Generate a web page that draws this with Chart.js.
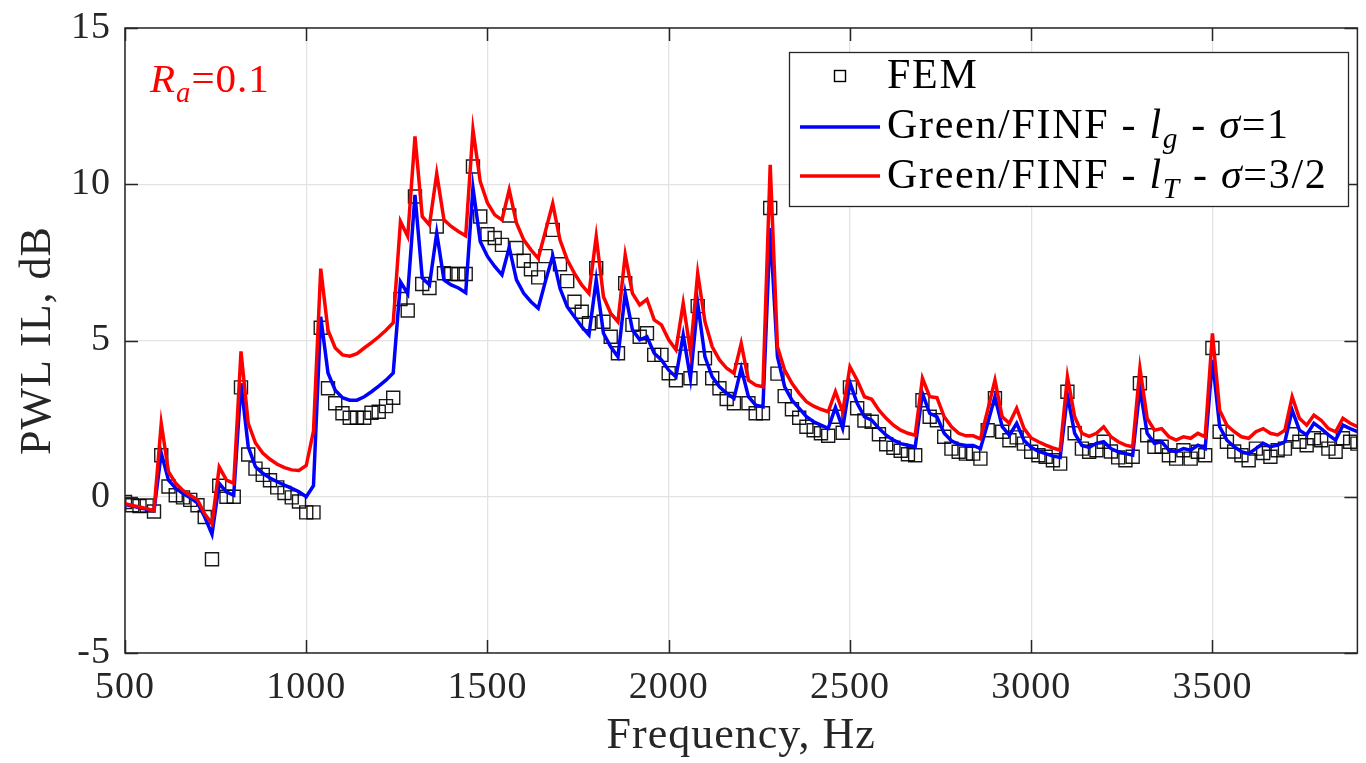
<!DOCTYPE html>
<html>
<head>
<meta charset="utf-8">
<script src="https://cdn.jsdelivr.net/npm/chart.js@4.4.1/dist/chart.umd.min.js"></script>
<style>
  html, body { margin: 0; padding: 0; background: #fff; overflow: hidden; }
  #wrap { position: relative; width: 1368px; height: 763px; }
</style>
</head>
<body>
<div id="wrap"><canvas id="plot"></canvas></div>
<script>
// frequency grid, Hz
var freq = [
  500,520,540,560,580,600,620,640,660,680,
  700,720,740,760,780,800,820,840,860,880,
  900,920,940,960,980,1000,1020,1040,1060,1080,
  1100,1120,1140,1160,1180,1200,1220,1240,1260,1280,
  1300,1320,1340,1360,1380,1400,1420,1440,1460,1480,
  1500,1520,1540,1560,1580,1600,1620,1640,1660,1680,
  1700,1720,1740,1760,1780,1800,1820,1840,1860,1880,
  1900,1920,1940,1960,1980,2000,2020,2040,2060,2080,
  2100,2120,2140,2160,2180,2200,2220,2240,2260,2280,
  2300,2320,2340,2360,2380,2400,2420,2440,2460,2480,
  2500,2520,2540,2560,2580,2600,2620,2640,2660,2680,
  2700,2720,2740,2760,2780,2800,2820,2840,2860,2880,
  2900,2920,2940,2960,2980,3000,3020,3040,3060,3080,
  3100,3120,3140,3160,3180,3200,3220,3240,3260,3280,
  3300,3320,3340,3360,3380,3400,3420,3440,3460,3480,
  3500,3520,3540,3560,3580,3600,3620,3640,3660,3680,
  3700,3720,3740,3760,3780,3800,3820,3840,3860,3880,
  3900
];

// FEM reference, dB
var fem = [
  -0.17,-0.27,-0.30,-0.28,-0.47,1.33,0.33,0.05,-0.02,-0.10,
  -0.27,-0.65,-2.00,0.35,0.00,0.00,3.50,1.35,0.90,0.70,
  0.53,0.30,0.12,-0.02,-0.15,-0.50,-0.50,5.41,3.47,2.99,
  2.67,2.53,2.53,2.53,2.69,2.72,2.90,3.17,6.33,5.96,
  9.61,6.81,6.68,8.65,7.15,7.13,7.13,7.13,10.57,8.97,
  8.40,8.28,8.06,9.00,7.96,7.55,7.28,7.02,7.70,8.54,
  7.44,6.90,6.24,5.92,5.55,7.31,5.60,5.12,4.59,6.83,
  5.50,5.12,5.23,4.54,4.54,3.95,3.73,4.90,3.79,6.10,
  4.43,3.79,3.47,3.13,2.99,4.05,2.99,2.67,2.67,9.24,
  3.94,3.22,2.80,2.53,2.24,2.13,2.03,1.95,2.56,2.05,
  3.50,2.83,2.44,2.40,2.00,1.68,1.57,1.47,1.36,1.33,
  3.09,2.56,2.45,1.92,1.54,1.44,1.38,1.38,1.22,2.13,
  3.15,2.08,1.81,1.90,1.70,1.44,1.33,1.28,1.17,1.06,
  3.36,2.03,1.54,1.44,1.49,1.76,1.45,1.26,1.17,1.28,
  3.63,1.97,1.60,1.60,1.33,1.22,1.49,1.22,1.44,1.33,
  4.76,2.08,1.76,1.45,1.33,1.17,1.54,1.40,1.28,1.49,
  1.54,2.00,1.76,1.65,1.87,1.81,1.54,1.44,1.87,1.76,
  1.70
];

// Green/FINF - l_g - sigma=1
var greenLg = [
  -0.25,-0.30,-0.35,-0.40,-0.45,1.40,0.53,0.27,0.10,-0.03,
  -0.20,-0.65,-1.20,0.43,0.15,0.05,3.63,1.60,0.96,0.75,
  0.60,0.48,0.37,0.27,0.16,0.00,0.35,5.76,3.96,3.41,
  3.17,3.09,3.09,3.20,3.36,3.54,3.73,3.96,6.88,6.50,
  9.66,7.00,6.78,8.44,6.94,6.78,6.68,6.53,9.89,8.17,
  7.69,7.37,7.10,7.98,6.94,6.51,6.24,6.03,6.90,7.71,
  6.67,6.08,5.76,5.44,5.18,6.94,5.23,4.80,4.48,6.51,
  5.34,5.02,5.12,4.59,4.38,4.05,3.84,5.18,3.79,6.19,
  4.48,3.84,3.52,3.31,3.15,4.11,3.20,2.93,2.88,8.60,
  4.48,3.52,3.09,2.83,2.56,2.40,2.29,2.19,2.86,2.19,
  3.65,2.99,2.56,2.45,2.19,1.97,1.81,1.70,1.65,1.59,
  3.31,2.67,2.56,2.03,1.79,1.68,1.64,1.64,1.54,2.35,
  3.20,2.24,1.97,2.35,1.81,1.58,1.45,1.38,1.30,1.26,
  3.25,2.03,1.64,1.58,1.71,1.76,1.54,1.44,1.38,1.33,
  3.47,2.03,1.71,1.76,1.49,1.44,1.54,1.49,1.65,1.54,
  4.38,2.24,1.81,1.60,1.44,1.38,1.54,1.71,1.60,1.65,
  1.76,2.77,2.13,1.98,2.35,2.18,1.98,1.81,2.29,2.18,
  2.08
];

// Green/FINF - l_T - sigma=3/2
var greenLt = [
  -0.22,-0.28,-0.33,-0.38,-0.45,2.35,0.80,0.43,0.20,0.05,
  -0.10,-0.55,-0.86,0.95,0.53,0.43,4.65,2.35,1.72,1.40,
  1.20,1.04,0.93,0.86,0.84,1.00,2.10,7.30,5.33,4.76,
  4.54,4.50,4.58,4.76,4.93,5.12,5.33,5.57,8.81,8.33,
  11.53,8.97,8.70,10.34,8.86,8.65,8.49,8.35,11.75,10.09,
  9.40,9.02,8.86,9.82,8.76,8.22,7.90,7.63,8.50,9.38,
  8.22,7.58,7.15,6.78,6.51,8.33,6.40,5.87,5.60,7.74,
  6.51,6.14,6.32,5.66,5.50,5.02,4.70,6.19,4.64,7.15,
  5.60,4.80,4.38,4.11,3.95,4.91,3.73,3.57,3.52,10.62,
  4.80,4.05,3.63,3.31,3.04,2.90,2.80,2.72,3.36,2.72,
  4.16,3.73,3.20,3.12,2.77,2.51,2.29,2.13,2.03,1.97,
  3.79,3.20,3.17,2.56,2.24,2.03,1.95,1.95,1.85,2.77,
  3.73,2.56,2.35,2.83,2.19,1.88,1.76,1.65,1.56,1.49,
  3.84,2.56,2.03,1.93,2.03,2.24,1.92,1.76,1.65,1.60,
  4.11,2.51,2.13,2.18,1.92,1.81,1.92,1.87,2.03,1.92,
  5.23,2.77,2.29,2.08,1.92,1.87,2.08,2.18,2.03,1.98,
  2.13,3.20,2.51,2.29,2.61,2.45,2.18,2.08,2.51,2.35,
  2.24
];

var xTicks = [500, 1000, 1500, 2000, 2500, 3000, 3500];
var yTicks = [-5, 0, 5, 10, 15];

var SERIF = '"Liberation Serif", "Times New Roman", serif';
var TXT = '#262626';

function pairs(ys) {
  return freq.map(function (f, i) { return { x: f, y: ys[i] }; });
}

// draw a run of text pieces, some italic, some subscript
function richText(ctx, x, y, parts, size, color) {
  var cx = x;
  ctx.fillStyle = color;
  ctx.textBaseline = 'alphabetic';
  ctx.textAlign = 'left';
  parts.forEach(function (p) {
    var fs = p.sub ? size * 0.7 : size;
    ctx.font = (p.it ? 'italic ' : '') + fs + 'px ' + SERIF;
    ctx.fillText(p.t, cx, y + (p.sub ? size * 0.24 : 0));
    cx += ctx.measureText(p.t).width;
  });
}

// slightly wider spacing, closer to the LaTeX font of the original
var spacing = {
  id: 'spacing',
  beforeDraw: function (chart) { chart.ctx.letterSpacing = '1px'; }
};

// MATLAB style box with inward ticks, the Ra label and the legend
var matlabFrame = {
  id: 'matlabFrame',
  afterDatasetsDraw: function (chart) {
    var ctx = chart.ctx, a = chart.chartArea;
    var sx = chart.scales.x, sy = chart.scales.y;
    ctx.save();
    ctx.strokeStyle = '#262626';
    ctx.lineWidth = 1.5;
    ctx.strokeRect(a.left, a.top, a.right - a.left, a.bottom - a.top);
    ctx.beginPath();
    xTicks.forEach(function (v) {
      var px = Math.round(sx.getPixelForValue(v)) + 0.5;
      ctx.moveTo(px, a.bottom); ctx.lineTo(px, a.bottom - 13);
      ctx.moveTo(px, a.top); ctx.lineTo(px, a.top + 13);
    });
    yTicks.forEach(function (v) {
      var py = Math.round(sy.getPixelForValue(v)) + 0.5;
      ctx.moveTo(a.left, py); ctx.lineTo(a.left + 13, py);
      ctx.moveTo(a.right, py); ctx.lineTo(a.right - 13, py);
    });
    ctx.stroke();
    ctx.restore();
  },
  afterDraw: function (chart) {
    var ctx = chart.ctx;
    ctx.save();
    ctx.letterSpacing = '1px';
    // annotation
    richText(ctx, 150, 92, [
      { t: 'R', it: true }, { t: 'a', it: true, sub: true }, { t: '=0.1' }
    ], 41, '#ff0000');

    // legend box
    var L = 789, T = 52, R = 1348, B = 206;
    ctx.fillStyle = '#ffffff';
    ctx.fillRect(L, T, R - L, B - T);
    ctx.strokeStyle = '#262626';
    ctx.lineWidth = 1.3;
    ctx.strokeRect(L + 0.5, T + 0.5, R - L, B - T);

    // FEM marker
    ctx.strokeStyle = '#000';
    ctx.lineWidth = 1.4;
    ctx.strokeRect(834.5, 70.5, 11, 11);
    // line samples
    ctx.lineWidth = 3.5;
    ctx.strokeStyle = '#0000ff';
    ctx.beginPath(); ctx.moveTo(800, 127); ctx.lineTo(880, 127); ctx.stroke();
    ctx.strokeStyle = '#ff0000';
    ctx.beginPath(); ctx.moveTo(800, 176); ctx.lineTo(880, 176); ctx.stroke();

    ctx.letterSpacing = '1.7px';
    var fs = 42;
    richText(ctx, 887, 88, [{ t: 'FEM' }], fs, '#000');
    richText(ctx, 887, 138, [
      { t: 'Green/FINF - ' }, { t: 'l', it: true }, { t: 'g', it: true, sub: true },
      { t: ' - ' }, { t: '\u03c3', it: true }, { t: '=1' }
    ], fs, '#000');
    richText(ctx, 887, 188, [
      { t: 'Green/FINF - ' }, { t: 'l', it: true }, { t: 'T', it: true, sub: true },
      { t: ' - ' }, { t: '\u03c3', it: true }, { t: '=3/2' }
    ], fs, '#000');
    ctx.restore();
  }
};

var ctx = document.getElementById('plot').getContext('2d');
var myChart = new Chart(ctx, {
  type: 'scatter',
  data: {
    datasets: [
      {
        label: 'FEM',
        data: pairs(fem),
        showLine: false,
        pointStyle: 'rect',
        pointRadius: 9.2,
        pointBorderWidth: 1.4,
        pointBorderColor: 'rgba(0,0,0,0.9)',
        pointBackgroundColor: 'rgba(0,0,0,0)',
        order: 3
      },
      {
        label: 'Green/FINF - lg - \u03c3=1',
        data: pairs(greenLg),
        showLine: true,
        borderColor: '#0000ff',
        borderWidth: 3.5,
        pointRadius: 0,
        tension: 0,
        order: 2
      },
      {
        label: 'Green/FINF - lT - \u03c3=3/2',
        data: pairs(greenLt),
        showLine: true,
        borderColor: '#ff0000',
        borderWidth: 3.5,
        pointRadius: 0,
        tension: 0,
        order: 1
      }
    ]
  },
  options: {
    responsive: true,
    maintainAspectRatio: false,
    animation: false,
    events: [],
    layout: { padding: { top: 28, right: 1, left: 0, bottom: 0 } },
    plugins: {
      legend: { display: false },
      tooltip: { enabled: false }
    },
    scales: {
      x: {
        type: 'linear',
        min: 500,
        max: 3900,
        afterBuildTicks: function (s) { s.ticks = xTicks.map(function (v) { return { value: v }; }); },
        afterFit: function (s) { s.height = 110; s.paddingLeft = 0; s.paddingRight = 0; },
        grid: { color: '#e3e3e3', lineWidth: 1.3, drawTicks: false },
        border: { display: false },
        ticks: {
          padding: 16,
          maxRotation: 0,
          color: TXT,
          font: { family: SERIF, size: 38, lineHeight: 1 },
          callback: function (v) { return String(v); }
        },
        title: {
          display: true,
          text: 'Frequency, Hz',
          color: TXT,
          font: { family: SERIF, size: 44 },
          padding: { top: 0, bottom: 0 }
        }
      },
      y: {
        type: 'linear',
        min: -5,
        max: 15,
        afterBuildTicks: function (s) { s.ticks = yTicks.map(function (v) { return { value: v }; }); },
        afterFit: function (s) { s.width = 125; s.paddingTop = 0; s.paddingBottom = 0; },
        grid: { color: '#e3e3e3', lineWidth: 1.3, drawTicks: false },
        border: { display: false },
        ticks: {
          padding: 14,
          color: TXT,
          font: { family: SERIF, size: 38, lineHeight: 1 },
          callback: function (v) { return String(v); }
        },
        title: {
          display: true,
          text: 'PWL IL, dB',
          color: TXT,
          font: { family: SERIF, size: 44 },
          padding: { top: 12, bottom: 0 }
        }
      }
    }
  },
  plugins: [spacing, matlabFrame]
});
</script>
</body>
</html>
